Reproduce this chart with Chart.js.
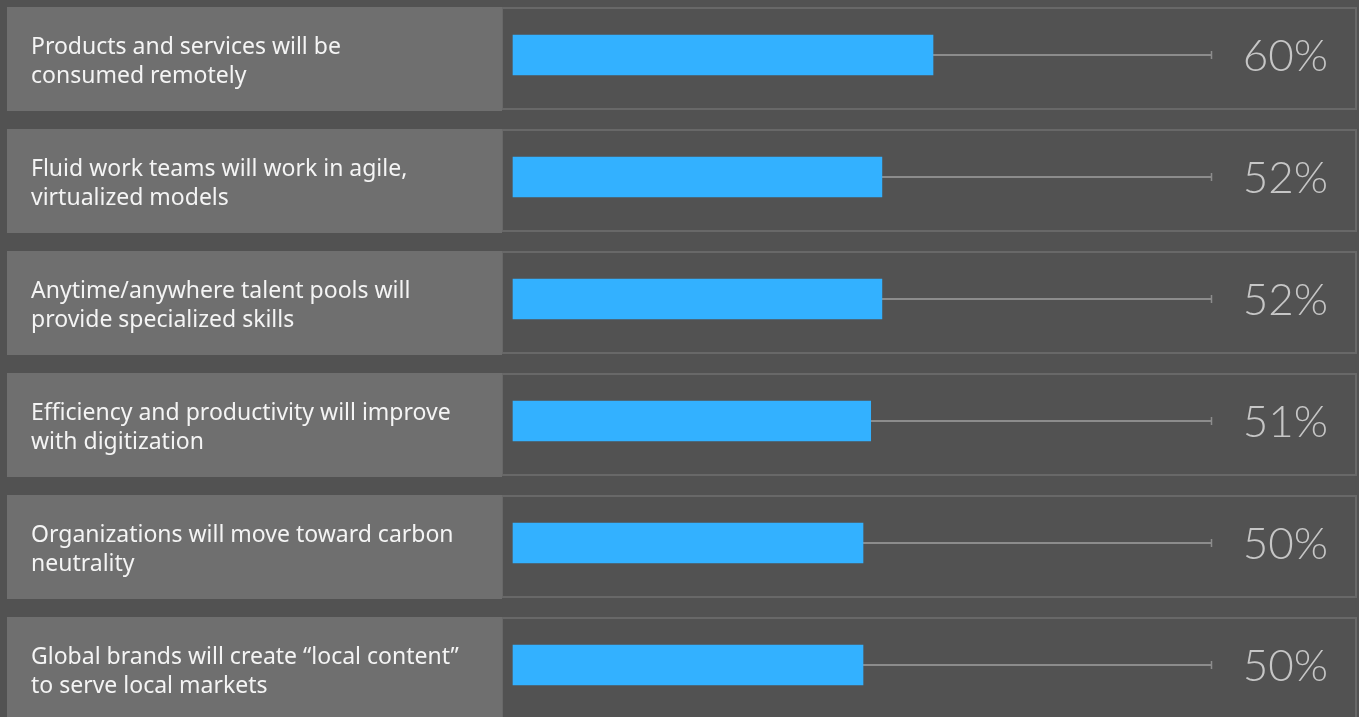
<!DOCTYPE html>
<html>
<head>
<meta charset="utf-8">
<script src="https://cdn.jsdelivr.net/npm/chart.js@4.4.1/dist/chart.umd.min.js"></script>
<style>
  html, body { margin: 0; padding: 0; background: #525252; }
  #wrap { width: 1359px; height: 717px; position: relative; }
</style>
</head>
<body>
<div id="wrap"><canvas id="chart"></canvas></div>
<script>
const categories = [
    ['Products and services will be', 'consumed remotely'],
    ['Fluid work teams will work in agile,', 'virtualized models'],
    ['Anytime/anywhere talent pools will', 'provide specialized skills'],
    ['Efficiency and productivity will improve', 'with digitization'],
    ['Organizations will move toward carbon', 'neutrality'],
    ['Global brands will create \u201clocal content\u201d', 'to serve local markets']
];
const values = [60, 52.7, 52.7, 51.1, 50, 50];
const valueLabels = ['60%', '52%', '52%', '51%', '50%', '50%'];
const axisMax = 100;

// panels, track lines and texts around the bars
const rowPlugin = {
    id: 'rows',
    beforeDatasetsDraw(chart) {
        const ctx = chart.ctx, x = chart.scales.x, y = chart.scales.y;
        ctx.save();
        values.forEach((v, i) => {
            const c = y.getPixelForValue(i);
            // right box
            ctx.fillStyle = '#525252';
            ctx.fillRect(502, c - 48, 855, 104);
            ctx.strokeStyle = '#686868';
            ctx.lineWidth = 2;
            ctx.strokeRect(502, c - 47, 854, 101);
            // left panel
            ctx.fillStyle = '#6f6f6f';
            ctx.fillRect(7, c - 48, 495, 104);
            // track line
            const end = x.getPixelForValue(axisMax) - 2;
            ctx.strokeStyle = '#8c8c8c';
            ctx.lineWidth = 2;
            ctx.beginPath();
            ctx.moveTo(x.getPixelForValue(v), c);
            ctx.lineTo(end, c);
            ctx.stroke();
            ctx.lineWidth = 1.5;
            ctx.beginPath();
            ctx.moveTo(end + 0.5, c - 4);
            ctx.lineTo(end + 0.5, c + 4);
            ctx.stroke();
        });
        ctx.restore();
    },
    afterDatasetsDraw(chart) {
        const ctx = chart.ctx, y = chart.scales.y;
        ctx.save();
        ctx.textBaseline = 'alphabetic';
        categories.forEach((lines, i) => {
            const c = y.getPixelForValue(i);
            ctx.fillStyle = '#f4f4f4';
            ctx.font = "23px 'Noto Sans', sans-serif";
            ctx.textAlign = 'left';
            lines.forEach((t, k) => ctx.fillText(t, 31, c - 1 + k * 29));
            ctx.fillStyle = '#c6c6c6';
            ctx.font = "300 44px Lato, sans-serif";
            ctx.textAlign = 'right';
            ctx.fillText(valueLabels[i], 1328, c + 16);
        });
        ctx.restore();
    }
};

new Chart(document.getElementById('chart'), {
    type: 'bar',
    data: {
        labels: categories,
        datasets: [{ data: values, backgroundColor: '#33b1ff', barThickness: 40, borderWidth: 0, clip: false }]
    },
    options: {
        indexAxis: 'y',
        responsive: true,
        maintainAspectRatio: false,
        animation: false,
        layout: { padding: { left: 513, right: 146, top: 55, bottom: 52 } },
        plugins: { legend: { display: false }, tooltip: { enabled: false } },
        scales: {
            x: { display: false, min: 0, max: axisMax },
            y: { display: false, offset: false }
        }
    },
    plugins: [rowPlugin]
});
</script>
</body>
</html>
